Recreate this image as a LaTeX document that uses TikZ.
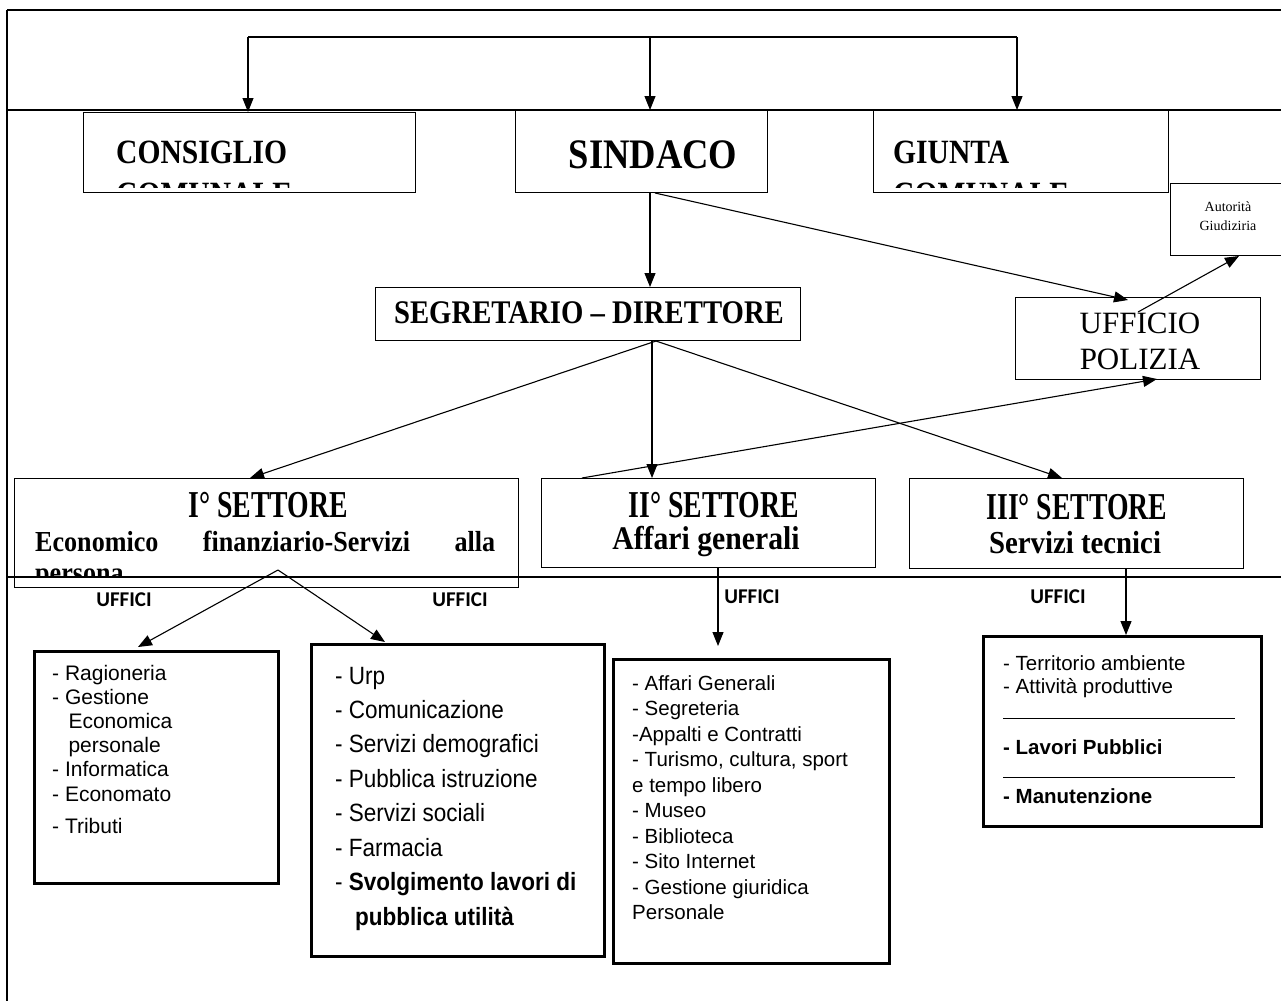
\documentclass[tikz,border=0pt]{standalone}
\usepackage{fontspec}
\setmainfont{Liberation Serif}
\newfontfamily\hdA[FakeStretch=0.87]{Liberation Serif}
\newfontfamily\hdB[FakeStretch=0.73]{Liberation Serif}
\newfontfamily\hdC[FakeStretch=0.9]{Liberation Serif}
\newfontfamily\sansA{Liberation Sans}
\newfontfamily\sansB[FakeStretch=0.9]{Liberation Sans}
\newfontfamily\calib{Carlito}
\usetikzlibrary{arrows.meta}
\tikzset{
  frameline/.style={line width=1.3pt},
  thinbox/.style={draw, line width=1.4pt, inner sep=0pt, anchor=north west},
  thickbox/.style={draw, line width=3pt, inner sep=0pt, anchor=north west},
  arr/.style={line width=1.1pt, -{Triangle[length=14pt,width=11pt]}},
  txt/.style={inner sep=0pt},
  uff/.style={inner sep=0pt, font=\calib\bfseries\fontsize{21}{24}\selectfont},
  itemA/.style={inner sep=0pt, anchor=base west, font=\sansA\fontsize{21}{24}\selectfont},
  itemB/.style={inner sep=0pt, anchor=base west, font=\sansB\fontsize{25}{28}\selectfont},
  itemC/.style={inner sep=0pt, anchor=base west, font=\sansA\fontsize{20.5}{23}\selectfont},
  itemD/.style={inner sep=0pt, anchor=base west, font=\sansA\fontsize{20.5}{23}\selectfont},
}
\begin{document}
\begin{tikzpicture}[x=1pt,y=-1pt]
\clip (0,0) rectangle (1281,1001);
\fill[white] (0,0) rectangle (1281,1001);

% frame lines
\draw[frameline] (7,10) -- (1281,10);
\draw[frameline] (7,10) -- (7,1001);
\draw[frameline] (7,110) -- (1281,110);
\draw[frameline] (7,577) -- (1281,577);

% top boxes
\node[thinbox, minimum width=332pt, minimum height=80pt] (cons) at (83,112) {};
\node[thinbox, minimum width=252pt, minimum height=82pt] (sind) at (515,110) {};
\node[thinbox, minimum width=295pt, minimum height=82pt] (giun) at (873,110) {};
\node[thinbox, minimum width=120pt, minimum height=72pt, fill=white] (auto) at (1170,183) {};

\node[txt, anchor=west, font=\hdA\bfseries\fontsize{34}{36}\selectfont] (consT) at (116,152) {CONSIGLIO};
\begin{scope}
  \clip (83,112) rectangle (415,187);
  \node[txt, anchor=west, font=\hdA\bfseries\fontsize{34}{36}\selectfont] (consT2) at (116,194) {COMUNALE};
\end{scope}
\node[txt, font=\hdA\bfseries\fontsize{42}{44}\selectfont] (sindT) at (653,155) {SINDACO};
\node[txt, anchor=west, font=\hdA\bfseries\fontsize{34}{36}\selectfont] (giunT) at (893,152) {GIUNTA};
\begin{scope}
  \clip (873,112) rectangle (1168,187);
  \node[txt, anchor=west, font=\hdA\bfseries\fontsize{34}{36}\selectfont] (giunT2) at (893,194) {COMUNALE};
\end{scope}
\node[txt, font=\fontsize{14}{16}\selectfont] (autoT1) at (1228,207) {Autorità};
\node[txt, font=\fontsize{14}{16}\selectfont] (autoT2) at (1228,226) {Giudiziria};

% segretario and polizia
\node[thinbox, minimum width=425pt, minimum height=53pt] (seg) at (375,287) {};
\node[txt, font=\hdA\bfseries\fontsize{33}{36}\selectfont] (segT) at (589,313) {SEGRETARIO – DIRETTORE};
\node[thinbox, minimum width=245pt, minimum height=82pt] (pol) at (1015,297) {};
\node[txt, font=\fontsize{31}{33}\selectfont] (polT1) at (1140,323) {UFFICIO};
\node[txt, font=\fontsize{31}{33}\selectfont] (polT2) at (1140,359) {POLIZIA};

% settori
\node[thinbox, minimum width=504pt, minimum height=109pt] (s1) at (14,478) {};
\node[thinbox, minimum width=334pt, minimum height=89pt] (s2) at (541,478) {};
\node[thinbox, minimum width=334pt, minimum height=90pt] (s3) at (909,478) {};
\node[txt, font=\hdB\bfseries\fontsize{38}{40}\selectfont] (s1T) at (268,505) {I° SETTORE};
\node[txt, anchor=west, font=\hdC\bfseries\fontsize{29}{32}\selectfont] (s1S) at (35,541)
  {\makebox[460pt][s]{Economico finanziario-Servizi alla}};
\begin{scope}
  \clip (14,478) rectangle (518,575);
  \node[txt, anchor=west, font=\hdC\bfseries\fontsize{29}{32}\selectfont] (s1S2) at (35,579) {persona};
\end{scope}
\node[txt, font=\hdB\bfseries\fontsize{38}{40}\selectfont] (s2T) at (714,505) {II° SETTORE};
\node[txt, font=\hdC\bfseries\fontsize{33}{35}\selectfont] (s2S) at (706,542) {Affari generali};
\node[txt, font=\hdB\bfseries\fontsize{38}{40}\selectfont] (s3T) at (1077,507) {III° SETTORE};
\node[txt, font=\hdC\bfseries\fontsize{32}{34}\selectfont] (s3S) at (1075,543) {Servizi tecnici};

% UFFICI labels
\node[uff] (u1) at (124,600) {UFFICI};
\node[uff] (u2) at (460,600) {UFFICI};
\node[uff] (u3) at (752,597) {UFFICI};
\node[uff] (u4) at (1058,597) {UFFICI};

% office boxes
\node[thickbox, minimum width=244pt, minimum height=232pt] (bA) at (33,650) {};
\node[thickbox, minimum width=293pt, minimum height=312pt] (bB) at (310,643) {};
\node[thickbox, minimum width=276pt, minimum height=304pt] (bC) at (612,658) {};
\node[thickbox, minimum width=278pt, minimum height=190pt] (bD) at (982,635) {};

% box A items
\foreach \t [count=\i] in {{- Ragioneria},{- Gestione},{\phantom{- }\,Economica},{\phantom{- }\,personale},{- Informatica},{- Economato}}
  \node[itemA] (a\i) at (52,{680+(\i-1)*24.2}) {\t};
\node[itemA] (a7) at (52,833) {- Tributi};

% box B items
\foreach \t [count=\i] in {{- Urp},{- Comunicazione},{- Servizi demografici},{- Pubblica istruzione},{- Servizi sociali},{- Farmacia},{- \textbf{Svolgimento lavori di}}}
  \node[itemB] (b\i) at (335,{684+(\i-1)*34.4}) {\t};
\node[itemB] (b8) at (355,925) {\textbf{pubblica utilità}};

% box C items
\foreach \t [count=\i] in {{- Affari Generali},{- Segreteria},{-Appalti e Contratti},{- Turismo, cultura, sport},{e tempo libero},{- Museo},{- Biblioteca},{- Sito Internet},{- Gestione giuridica},{Personale}}
  \node[itemC] (c\i) at (632,{690+(\i-1)*25.5}) {\t};

% box D items
\node[itemD] (d1) at (1003,670) {- Territorio ambiente};
\node[itemD] (d2) at (1003,693) {- Attività produttive};
\draw[line width=0.9pt] (1003,718) -- (1235,718);
\node[itemD] (d3) at (1003,754) {\bfseries - Lavori Pubblici};
\draw[line width=0.9pt] (1003,777) -- (1235,777);
\node[itemD] (d4) at (1003,803) {\bfseries - Manutenzione};

% top bus
\coordinate (busL) at (248,37);
\coordinate (busM) at (650,37);
\coordinate (busR) at (1017,37);
\draw[line width=1.6pt] (busL) -- (busR);
\draw[arr] (busL) -- (busL |- cons.north);
\draw[arr] (busM) -- (busM |- sind.north);
\draw[arr] (busR) -- (busR |- giun.north);

% sindaco connections
\draw[arr] (busM |- sind.south) -- (busM |- seg.north);
\coordinate (sindOut) at (655,193);
\coordinate (polIn) at (1128,300);
\draw[arr] (sindOut) -- (polIn);
\coordinate (polOut) at (1138,312);
\coordinate (autoIn) at (1239,256);
\draw[arr] (polOut) -- (autoIn);

% segretario fan
\coordinate (segOut) at (656,341);
\coordinate (segMid) at (652,341);
\coordinate (s1In) at (250,478);
\coordinate (s3In) at (1062,478);
\draw[arr] (segOut) -- (s1In);
\draw[arr] (segOut) -- (s3In);
\draw[arr] (segMid) -- (segMid |- s2.north);
\coordinate (s2Out) at (582,478);
\coordinate (polBot) at (1157,379);
\draw[arr] (s2Out) -- (polBot);

% settori to offices
\coordinate (s1Out) at (278,570);
\coordinate (aIn) at (138,647);
\coordinate (bIn) at (385,642);
\draw[arr] (s1Out) -- (aIn);
\draw[arr] (s1Out) -- (bIn);
\coordinate (s2Down) at (718,567);
\coordinate (cIn) at (718,646);
\draw[arr] (s2Down) -- (cIn);
\coordinate (s3Down) at (1126,568);
\draw[arr] (s3Down) -- (s3Down |- bD.north);
\end{tikzpicture}
\end{document}
